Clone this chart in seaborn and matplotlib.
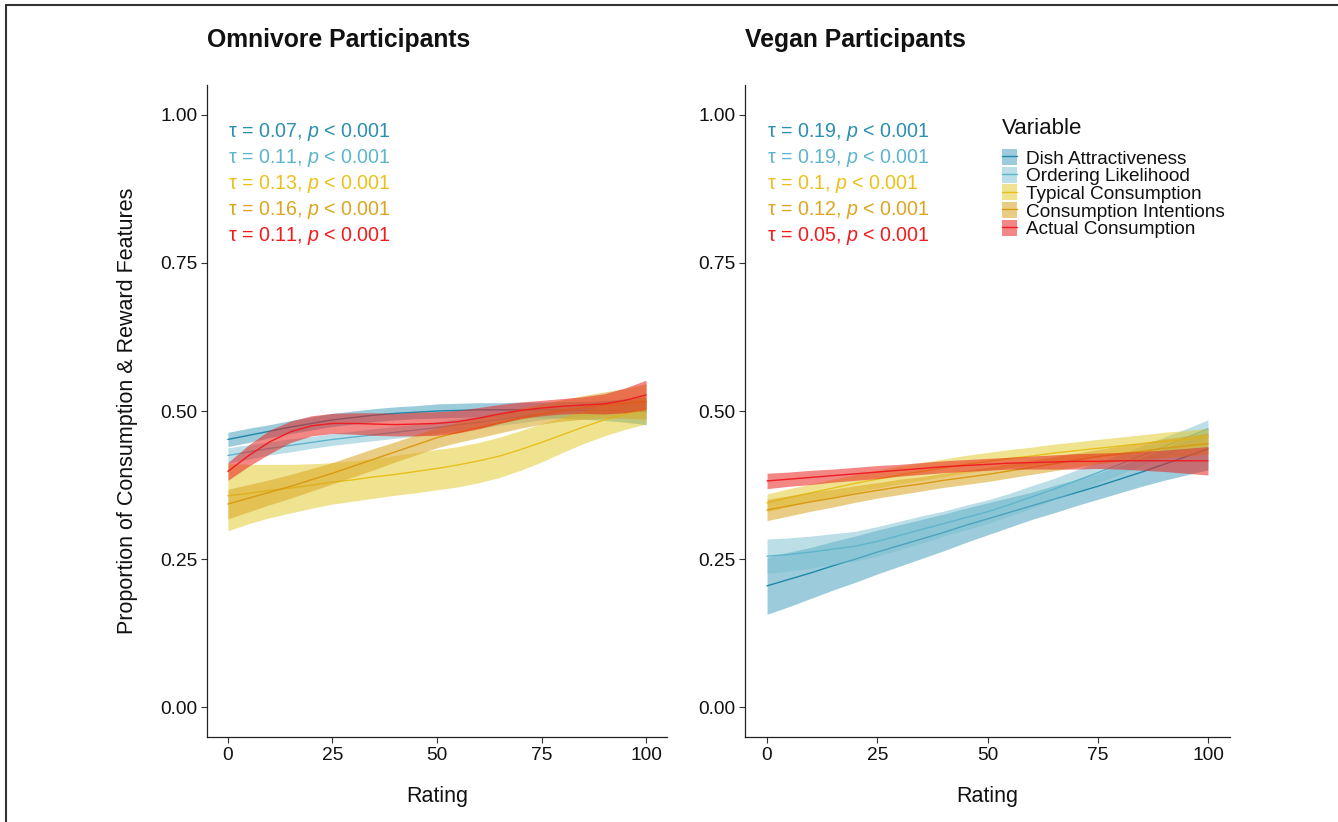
import numpy as np
import pandas as pd
import matplotlib
matplotlib.use("Agg")
import matplotlib.pyplot as plt
import seaborn as sns
from matplotlib.patches import Patch
from matplotlib.lines import Line2D
from matplotlib.legend_handler import HandlerTuple

# ---------------- data ----------------
rating = list(range(0, 101, 5))
variables = ["Dish Attractiveness", "Ordering Likelihood", "Typical Consumption",
             "Consumption Intentions", "Actual Consumption"]

# Omnivore participants
omni_da_mean = [0.452,0.459,0.466,0.473,0.479,0.485,0.489,0.493,0.496,0.498,0.500,0.501,0.502,0.502,0.502,0.502,0.502,0.501,0.501,0.500,0.499]
omni_da_lo   = [0.440,0.447,0.455,0.462,0.468,0.474,0.478,0.482,0.485,0.487,0.488,0.489,0.490,0.490,0.490,0.489,0.488,0.486,0.484,0.481,0.477]
omni_da_hi   = [0.464,0.471,0.477,0.484,0.490,0.496,0.500,0.504,0.507,0.509,0.512,0.513,0.514,0.514,0.515,0.515,0.516,0.516,0.518,0.519,0.521]
omni_ol_mean = [0.425,0.431,0.437,0.442,0.447,0.452,0.456,0.460,0.464,0.468,0.472,0.477,0.481,0.486,0.490,0.495,0.499,0.503,0.506,0.509,0.512]
omni_ol_lo   = [0.412,0.419,0.426,0.431,0.437,0.442,0.446,0.450,0.454,0.458,0.462,0.467,0.471,0.476,0.480,0.485,0.489,0.492,0.495,0.497,0.500]
omni_ol_hi   = [0.438,0.443,0.448,0.453,0.457,0.462,0.466,0.470,0.474,0.478,0.482,0.487,0.491,0.496,0.500,0.505,0.509,0.514,0.517,0.521,0.524]
omni_tc_mean = [0.357,0.361,0.366,0.370,0.375,0.380,0.384,0.389,0.393,0.398,0.403,0.409,0.416,0.424,0.435,0.447,0.460,0.473,0.485,0.495,0.503]
omni_tc_lo   = [0.298,0.310,0.320,0.328,0.336,0.343,0.348,0.353,0.358,0.362,0.367,0.372,0.379,0.388,0.400,0.414,0.430,0.445,0.458,0.469,0.478]
omni_tc_hi   = [0.411,0.410,0.410,0.410,0.411,0.413,0.416,0.420,0.425,0.430,0.435,0.440,0.447,0.456,0.467,0.479,0.490,0.501,0.511,0.518,0.525]
omni_ci_mean = [0.343,0.353,0.363,0.373,0.384,0.395,0.407,0.419,0.431,0.443,0.455,0.464,0.472,0.480,0.488,0.495,0.501,0.506,0.510,0.513,0.516]
omni_ci_lo   = [0.318,0.330,0.342,0.353,0.365,0.377,0.389,0.401,0.414,0.426,0.438,0.447,0.455,0.463,0.471,0.478,0.483,0.486,0.488,0.488,0.486]
omni_ci_hi   = [0.368,0.376,0.384,0.393,0.403,0.413,0.425,0.437,0.448,0.460,0.472,0.481,0.489,0.497,0.505,0.512,0.519,0.526,0.532,0.538,0.546]
omni_ac_mean = [0.398,0.425,0.448,0.465,0.475,0.479,0.479,0.478,0.477,0.478,0.479,0.482,0.488,0.495,0.501,0.505,0.508,0.510,0.512,0.518,0.527]
omni_ac_lo   = [0.383,0.407,0.428,0.447,0.458,0.462,0.461,0.459,0.458,0.458,0.459,0.463,0.470,0.479,0.487,0.492,0.495,0.496,0.495,0.497,0.502]
omni_ac_hi   = [0.413,0.443,0.468,0.483,0.492,0.496,0.497,0.497,0.496,0.498,0.499,0.501,0.506,0.511,0.515,0.518,0.521,0.524,0.529,0.539,0.552]

# Vegan participants
vegan_da_mean = [0.205,0.216,0.227,0.239,0.250,0.262,0.273,0.284,0.295,0.307,0.318,0.329,0.340,0.351,0.362,0.373,0.385,0.397,0.410,0.423,0.436]
vegan_da_lo   = [0.157,0.170,0.184,0.198,0.211,0.225,0.238,0.251,0.264,0.278,0.291,0.304,0.317,0.328,0.340,0.351,0.362,0.373,0.383,0.392,0.401]
vegan_da_hi   = [0.253,0.262,0.270,0.280,0.289,0.299,0.308,0.317,0.326,0.336,0.345,0.354,0.363,0.374,0.384,0.395,0.408,0.421,0.437,0.454,0.471]
vegan_ol_mean = [0.255,0.258,0.262,0.267,0.272,0.280,0.290,0.300,0.310,0.320,0.330,0.342,0.355,0.368,0.382,0.396,0.410,0.425,0.440,0.455,0.470]
vegan_ol_lo   = [0.226,0.230,0.235,0.241,0.247,0.255,0.266,0.277,0.289,0.299,0.310,0.323,0.336,0.350,0.364,0.378,0.393,0.409,0.424,0.440,0.455]
vegan_ol_hi   = [0.284,0.286,0.289,0.293,0.297,0.305,0.314,0.323,0.331,0.341,0.350,0.361,0.374,0.386,0.400,0.414,0.427,0.441,0.456,0.470,0.485]
vegan_tc_mean = [0.345,0.354,0.362,0.370,0.378,0.385,0.392,0.398,0.404,0.410,0.415,0.420,0.424,0.429,0.433,0.437,0.441,0.445,0.449,0.452,0.456]
vegan_tc_lo   = [0.330,0.339,0.347,0.355,0.363,0.370,0.377,0.383,0.389,0.395,0.400,0.405,0.409,0.414,0.418,0.422,0.426,0.430,0.434,0.437,0.441]
vegan_tc_hi   = [0.360,0.369,0.377,0.385,0.393,0.400,0.407,0.413,0.419,0.425,0.430,0.435,0.439,0.444,0.448,0.452,0.456,0.460,0.464,0.467,0.471]
vegan_ci_mean = [0.333,0.340,0.347,0.353,0.360,0.366,0.372,0.377,0.383,0.388,0.393,0.399,0.405,0.411,0.417,0.423,0.428,0.432,0.437,0.441,0.445]
vegan_ci_lo   = [0.315,0.323,0.331,0.338,0.346,0.353,0.359,0.365,0.371,0.376,0.381,0.387,0.393,0.399,0.405,0.411,0.415,0.418,0.421,0.424,0.427]
vegan_ci_hi   = [0.351,0.357,0.363,0.368,0.374,0.379,0.385,0.389,0.395,0.400,0.405,0.411,0.417,0.423,0.429,0.435,0.441,0.446,0.453,0.458,0.463]
vegan_ac_mean = [0.382,0.385,0.388,0.391,0.394,0.397,0.400,0.403,0.406,0.408,0.410,0.412,0.413,0.414,0.415,0.415,0.416,0.416,0.416,0.416,0.416]
vegan_ac_lo   = [0.369,0.373,0.376,0.380,0.383,0.386,0.390,0.393,0.396,0.398,0.400,0.402,0.402,0.402,0.402,0.403,0.402,0.400,0.398,0.395,0.392]
vegan_ac_hi   = [0.395,0.397,0.400,0.402,0.405,0.408,0.410,0.413,0.416,0.418,0.420,0.422,0.424,0.426,0.428,0.429,0.430,0.432,0.434,0.437,0.440]

omni_tau  = ["0.07", "0.11", "0.13", "0.16", "0.11"]
vegan_tau = ["0.19", "0.19", "0.1", "0.12", "0.05"]
p_value = "0.001"

x_ticks = [0, 25, 50, 75, 100]
y_ticks = [0.00, 0.25, 0.50, 0.75, 1.00]
y_tick_labels = ["0.00", "0.25", "0.50", "0.75", "1.00"]

# ---------------- styles ----------------
line_colors = ["#1f87a8", "#5fb5cb", "#e6c01c", "#d99a14", "#ee1c24"]
fill_colors = ["#3a9bb8", "#79bfd0", "#e2c821", "#daa520", "#e8241f"]
fill_alpha = [0.5, 0.5, 0.5, 0.55, 0.55]
text_colors = ["#2a8fb0", "#5db5cc", "#ecc01c", "#dea520", "#f21c1c"]

sns.set_theme(style="ticks")
plt.rcParams["font.family"] = ["Liberation Sans", "DejaVu Sans"]
plt.rcParams["mathtext.fontset"] = "custom"
plt.rcParams["mathtext.it"] = "Liberation Sans:italic"
plt.rcParams["mathtext.rm"] = "Liberation Sans"

rows = []
panels = {
    "Omnivore": [(omni_da_mean, omni_da_lo, omni_da_hi), (omni_ol_mean, omni_ol_lo, omni_ol_hi),
                 (omni_tc_mean, omni_tc_lo, omni_tc_hi), (omni_ci_mean, omni_ci_lo, omni_ci_hi),
                 (omni_ac_mean, omni_ac_lo, omni_ac_hi)],
    "Vegan": [(vegan_da_mean, vegan_da_lo, vegan_da_hi), (vegan_ol_mean, vegan_ol_lo, vegan_ol_hi),
              (vegan_tc_mean, vegan_tc_lo, vegan_tc_hi), (vegan_ci_mean, vegan_ci_lo, vegan_ci_hi),
              (vegan_ac_mean, vegan_ac_lo, vegan_ac_hi)],
}
for panel, series in panels.items():
    for var, (m, lo, hi) in zip(variables, series):
        for r, a, b, c in zip(rating, m, lo, hi):
            rows.append(dict(panel=panel, Variable=var, Rating=r, mean=a, lo=b, hi=c))
df = pd.DataFrame(rows)

W, H = 1338, 822
fig = plt.figure(figsize=(W / 100, H / 100), dpi=100)
ax1 = fig.add_axes([207 / W, 1 - 737 / H, 460 / W, 652 / H])
ax2 = fig.add_axes([745 / W, 1 - 737 / H, 485 / W, 652 / H])

for ax, panel, taus in [(ax1, "Omnivore", omni_tau), (ax2, "Vegan", vegan_tau)]:
    sub = df[df.panel == panel]
    for i, var in enumerate(variables):
        d = sub[sub.Variable == var]
        ax.fill_between(d.Rating, d.lo, d.hi, color=fill_colors[i], alpha=fill_alpha[i],
                        linewidth=0, zorder=2 + 2 * i)
        sns.lineplot(data=d, x="Rating", y="mean", color=line_colors[i], linewidth=1.0,
                     ax=ax, zorder=3 + 2 * i, legend=False)
    ax.set_xlim(-5, 105)
    ax.set_ylim(-0.05, 1.05)
    ax.set_xticks(x_ticks)
    ax.set_xticklabels([str(t) for t in x_ticks])
    ax.set_yticks(y_ticks)
    ax.set_yticklabels(y_tick_labels)
    ax.tick_params(axis="both", labelsize=13.8, length=4, width=0.8, color="#333333",
                   labelcolor="#111111", pad=3)
    sns.despine(ax=ax)
    for s in ["left", "bottom"]:
        ax.spines[s].set_color("#222222")
        ax.spines[s].set_linewidth(0.9)
    ax.set_xlabel("Rating", fontsize=15.5, color="#111111")
    ax.xaxis.set_label_coords(0.5, -0.075)
    ax.set_ylabel("")
    for i, t in enumerate(taus):
        ax.text(0, 0.970 - 0.0438 * i, rf"τ = {t}, $\mathit{{p}}$ < {p_value}",
                color=text_colors[i], fontsize=14.1, va="center", ha="left", zorder=20)

ax1.set_ylabel("Proportion of Consumption & Reward Features", fontsize=15.5, color="#111111")
ax1.yaxis.set_label_coords(-0.150, 0.5)

fig.text(207 / W, 1 - 40 / H, "Omnivore Participants", fontsize=17.8, fontweight="bold",
         va="center", ha="left", color="#111111")
fig.text(745 / W, 1 - 40 / H, "Vegan Participants", fontsize=17.8, fontweight="bold",
         va="center", ha="left", color="#111111")

# legend
fig.text(1002 / W, 1 - 128 / H, "Variable", fontsize=16, va="center", ha="left",
         color="#111111")
handles = [(Patch(facecolor=fill_colors[i], alpha=fill_alpha[i], linewidth=0),
            Line2D([], [], color=line_colors[i], linewidth=1.0)) for i in range(5)]
leg = ax2.legend(handles, variables, loc="upper left",
                 bbox_to_anchor=(1002 / W, 1 - 149 / H), bbox_transform=fig.transFigure,
                 frameon=False, fontsize=13.7, handlelength=0.8,
                 handleheight=0.92, labelspacing=-0.045, handletextpad=0.45, borderpad=0,
                 borderaxespad=0,
                 handler_map={tuple: HandlerTuple(ndivide=1, pad=0)})
for txt in leg.get_texts():
    txt.set_color("#111111")

# figure border (top and left)
fig.add_artist(Line2D([6 / W, 6 / W], [0, 1 - 5.5 / H], transform=fig.transFigure,
                      color="#333333", linewidth=1.5))
fig.add_artist(Line2D([6 / W, 1], [1 - 5.5 / H, 1 - 5.5 / H], transform=fig.transFigure,
                      color="#333333", linewidth=1.5))

fig.savefig("out.png", dpi=100, facecolor="white")
